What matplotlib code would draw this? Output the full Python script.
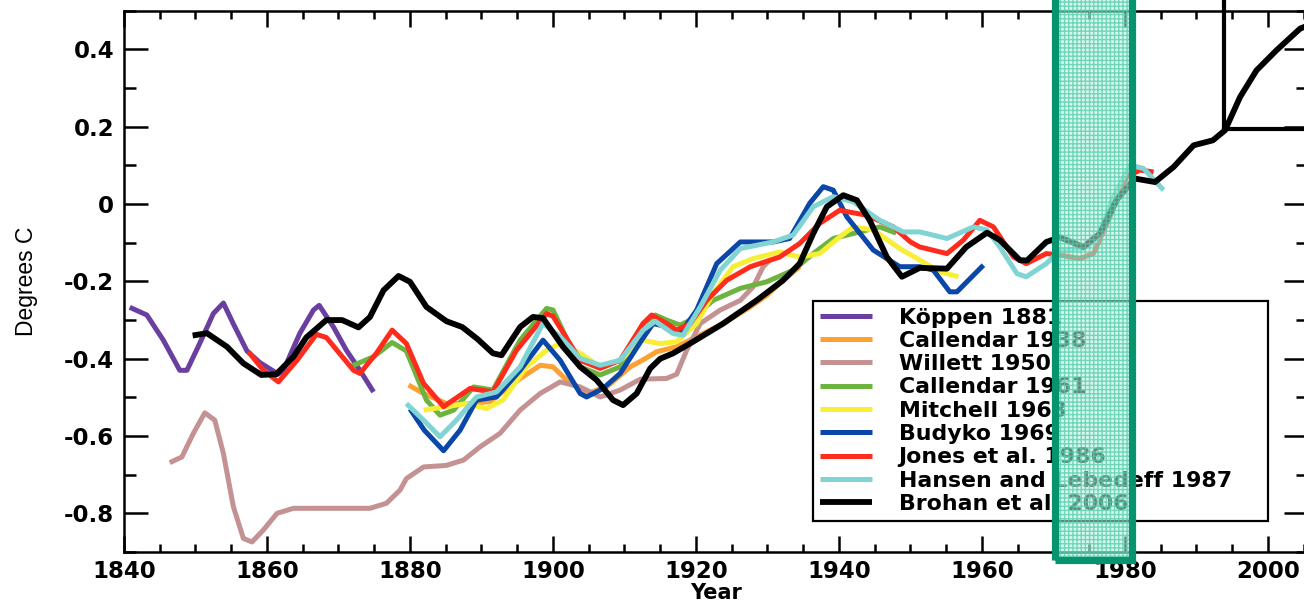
import matplotlib
matplotlib.use("Agg")
from matplotlib import pyplot as plt
from matplotlib.patches import Rectangle
from matplotlib.ticker import MultipleLocator

# --- data ---
koppen_years = [1840.8, 1843.2, 1845.5, 1847.8, 1848.8, 1850.6, 1852.5, 1853.9, 1855.3, 1857.2,
                1859.0, 1861.6, 1862.3, 1864.6, 1866.5, 1867.3, 1869.3, 1871.1, 1873.0, 1874.9]
koppen_vals = [-0.267, -0.287, -0.352, -0.430, -0.430, -0.360, -0.283, -0.256, -0.310, -0.380,
               -0.410, -0.440, -0.430, -0.334, -0.274, -0.262, -0.318, -0.378, -0.430, -0.486]

callendar38_years = [1879.8, 1881.9, 1885.1, 1888.4, 1891.2, 1894.4, 1898.2, 1900.0, 1901.9, 1904.7,
                     1907.5, 1910.8, 1912.4, 1914.5, 1917.3, 1920.1, 1923.8, 1927.6, 1929.9, 1932.2,
                     1934.5]
callendar38_vals = [-0.468, -0.490, -0.516, -0.516, -0.511, -0.464, -0.417, -0.421, -0.455, -0.490,
                    -0.473, -0.421, -0.405, -0.382, -0.369, -0.343, -0.309, -0.266, -0.236, -0.197,
                    -0.162]

willett_years = [1846.4, 1848.1, 1849.7, 1851.3, 1852.7, 1853.9, 1855.3, 1856.7, 1857.9, 1859.5,
                 1861.4, 1863.7, 1867.5, 1874.4, 1876.7, 1878.6, 1879.5, 1881.9, 1885.1, 1887.5,
                 1889.8, 1892.6, 1895.4, 1898.2, 1901.0, 1903.8, 1906.6, 1909.4, 1912.2, 1915.9,
                 1917.3, 1918.7, 1920.6, 1923.4, 1926.2, 1928.0, 1929.4, 1930.3]
willett_vals = [-0.669, -0.654, -0.593, -0.540, -0.559, -0.645, -0.783, -0.865, -0.874, -0.843,
                -0.800, -0.787, -0.787, -0.787, -0.774, -0.740, -0.710, -0.680, -0.676, -0.662,
                -0.628, -0.593, -0.533, -0.490, -0.460, -0.473, -0.499, -0.481, -0.453, -0.451,
                -0.440, -0.378, -0.309, -0.274, -0.249, -0.214, -0.162, -0.145]

callendar61_years = [1871.6, 1874.9, 1877.5, 1879.5, 1882.3, 1884.2, 1886.1, 1888.9, 1891.6, 1895.4,
                     1899.1, 1900.0, 1903.8, 1906.6, 1909.4, 1912.6, 1914.3, 1915.9, 1917.8, 1919.2,
                     1922.4, 1926.2, 1929.9, 1933.6, 1936.4, 1939.2, 1942.0, 1945.7, 1948.0]
callendar61_vals = [-0.421, -0.395, -0.358, -0.380, -0.507, -0.546, -0.533, -0.473, -0.481, -0.352,
                    -0.270, -0.274, -0.421, -0.442, -0.421, -0.309, -0.287, -0.300, -0.313, -0.300,
                    -0.249, -0.218, -0.201, -0.171, -0.128, -0.089, -0.076, -0.059, -0.075]

mitchell_years = [1881.9, 1885.1, 1887.9, 1890.7, 1893.0, 1896.3, 1899.1, 1901.0, 1903.8, 1906.6,
                  1909.4, 1912.4, 1915.0, 1917.3, 1920.1, 1922.4, 1925.2, 1928.0, 1931.7, 1934.5,
                  1937.3, 1940.1, 1942.0, 1944.8, 1948.5, 1951.3, 1954.1, 1956.7]
mitchell_vals = [-0.533, -0.524, -0.516, -0.529, -0.507, -0.421, -0.378, -0.361, -0.386, -0.421,
                 -0.404, -0.352, -0.361, -0.356, -0.309, -0.231, -0.162, -0.141, -0.124, -0.137,
                 -0.128, -0.085, -0.059, -0.067, -0.115, -0.145, -0.175, -0.188]

budyko_years = [1880.0, 1882.0, 1884.7, 1887.0, 1889.3, 1892.1, 1895.4, 1898.6, 1901.0, 1903.8,
                1904.7, 1907.0, 1909.4, 1912.4, 1914.0, 1915.9, 1917.8, 1920.1, 1922.9, 1926.2,
                1930.8, 1933.1, 1935.9, 1937.8, 1939.2, 1941.1, 1944.8, 1948.5, 1951.3, 1953.2,
                1955.5, 1956.5, 1960.2]
budyko_vals = [-0.530, -0.585, -0.638, -0.585, -0.507, -0.499, -0.430, -0.352, -0.404, -0.490,
               -0.499, -0.477, -0.438, -0.352, -0.309, -0.317, -0.335, -0.274, -0.154, -0.098,
               -0.098, -0.089, 0.002, 0.045, 0.036, -0.033, -0.119, -0.162, -0.162, -0.171,
               -0.227, -0.227, -0.158]

jones_years = [1857.4, 1859.5, 1861.6, 1864.2, 1866.9, 1868.3, 1872.1, 1873.0, 1875.3, 1877.5,
               1879.5, 1881.9, 1884.7, 1888.4, 1891.6, 1894.9, 1899.1, 1900.0, 1903.8, 1906.6,
               1909.4, 1912.6, 1913.8, 1915.9, 1917.3, 1919.2, 1921.5, 1924.3, 1927.6, 1931.7,
               1934.5, 1937.3, 1940.1, 1943.9, 1947.6, 1950.0, 1951.3, 1955.1, 1957.4, 1959.7,
               1961.6, 1964.4, 1966.2, 1969.0, 1970.9, 1973.7, 1975.6, 1977.9, 1980.2, 1982.1,
               1984.0]
jones_vals = [-0.382, -0.430, -0.460, -0.404, -0.337, -0.345, -0.430, -0.438, -0.386, -0.326,
              -0.361, -0.464, -0.524, -0.477, -0.486, -0.378, -0.283, -0.290, -0.404, -0.425,
              -0.404, -0.309, -0.287, -0.309, -0.326, -0.309, -0.249, -0.197, -0.162, -0.137,
              -0.102, -0.050, -0.016, -0.029, -0.059, -0.098, -0.111, -0.128, -0.093, -0.042,
              -0.059, -0.137, -0.154, -0.128, -0.132, -0.141, -0.128, -0.033, 0.070, 0.088,
              0.083]

hansen_years = [1879.5, 1881.9, 1884.2, 1886.5, 1889.3, 1892.1, 1895.4, 1898.6, 1901.0, 1903.8,
                1906.6, 1909.4, 1912.6, 1914.3, 1916.8, 1918.2, 1920.6, 1923.4, 1926.2, 1930.8,
                1933.6, 1936.4, 1939.2, 1942.0, 1945.7, 1949.0, 1951.3, 1955.1, 1958.8, 1960.7,
                1962.5, 1964.9, 1966.2, 1969.0, 1970.9, 1974.2, 1976.0, 1978.4, 1980.7, 1982.6,
                1985.4]
hansen_vals = [-0.516, -0.559, -0.602, -0.559, -0.499, -0.486, -0.421, -0.309, -0.343, -0.399,
               -0.417, -0.404, -0.326, -0.303, -0.335, -0.339, -0.266, -0.171, -0.115, -0.098,
               -0.080, -0.007, 0.019, 0.006, -0.042, -0.072, -0.072, -0.089, -0.059, -0.067,
               -0.111, -0.180, -0.188, -0.154, -0.119, -0.115, -0.093, 0.019, 0.101, 0.092,
               0.036]

brohan_years = [1849.6, 1851.6, 1854.4, 1856.7, 1859.2, 1861.3, 1863.7, 1865.5, 1868.3, 1870.5,
                1872.8, 1874.4, 1876.3, 1878.4, 1880.0, 1882.3, 1885.1, 1887.3, 1889.5, 1891.6,
                1892.8, 1895.4, 1897.2, 1898.6, 1901.4, 1903.8, 1906.1, 1908.4, 1909.8, 1911.7,
                1913.6, 1915.0, 1916.8, 1919.6, 1923.8, 1928.5, 1932.2, 1934.5, 1936.4, 1938.3,
                1940.6, 1942.5, 1944.3, 1946.7, 1948.8, 1951.3, 1955.1, 1957.8, 1960.7, 1962.5,
                1965.3, 1966.3, 1969.0, 1970.9, 1974.2, 1976.5, 1978.8, 1981.4, 1984.2, 1986.8,
                1989.6, 1992.3, 1994.0, 1996.1, 1998.4, 2001.2, 2004.5, 2006.0]
brohan_vals = [-0.340, -0.334, -0.369, -0.412, -0.442, -0.440, -0.395, -0.345, -0.300, -0.300,
               -0.319, -0.292, -0.223, -0.186, -0.201, -0.266, -0.303, -0.318, -0.350, -0.386,
               -0.391, -0.318, -0.292, -0.295, -0.369, -0.421, -0.455, -0.507, -0.520, -0.490,
               -0.425, -0.400, -0.386, -0.356, -0.309, -0.249, -0.197, -0.154, -0.076, -0.007,
               0.023, 0.010, -0.042, -0.137, -0.188, -0.165, -0.167, -0.111, -0.074, -0.093,
               -0.145, -0.146, -0.098, -0.086, -0.111, -0.076, 0.010, 0.066, 0.057, 0.096,
               0.152, 0.165, 0.191, 0.277, 0.346, 0.398, 0.454, 0.465]

series = [
    ("Köppen 1881", koppen_years, koppen_vals, "#6a3fa0"),
    ("Callendar 1938", callendar38_years, callendar38_vals, "#ffa033"),
    ("Willett 1950", willett_years, willett_vals, "#c49292"),
    ("Callendar 1961", callendar61_years, callendar61_vals, "#6cb33f"),
    ("Mitchell 1963", mitchell_years, mitchell_vals, "#f7ee36"),
    ("Budyko 1969", budyko_years, budyko_vals, "#0a47a8"),
    ("Jones et al. 1986", jones_years, jones_vals, "#ff2b1c"),
    ("Hansen and Lebedeff 1987", hansen_years, hansen_vals, "#80d4d4"),
    ("Brohan et al. 2006", brohan_years, brohan_vals, "#000000"),
]

# highlighted period and corner box
box_x0, box_x1 = 1970.2, 1981.0
box_bottom = -0.921
corner_x, corner_y = 1993.8, 0.194

fig = plt.figure(figsize=(13.04, 6.03), dpi=100)
ax = fig.add_axes([124 / 1304, 51 / 603, 1184 / 1304, 541.2 / 603])

for label, xs, ys, col in series:
    lw = 4.2 if col == "#000000" else 3.6
    ax.plot(xs, ys, color=col, lw=lw, label=label,
            solid_joinstyle="round", solid_capstyle="butt")

ax.set_xlim(1840, 2005.6)
ax.set_ylim(-0.9, 0.5)

ax.xaxis.set_major_locator(MultipleLocator(20))
ax.xaxis.set_minor_locator(MultipleLocator(5))
ax.yaxis.set_minor_locator(MultipleLocator(0.1))
ax.set_yticks([-0.8, -0.6, -0.4, -0.2, 0, 0.2, 0.4])
ax.set_yticklabels(["-0.8", "-0.6", "-0.4", "-0.2", "0", "0.2", "0.4"])

ax.tick_params(axis="both", which="both", direction="in", top=True, right=True, width=1.8)
ax.tick_params(axis="y", which="major", length=17, pad=7)
ax.tick_params(axis="y", which="minor", length=8.5)
ax.tick_params(axis="x", which="major", length=11.5, pad=6)
ax.tick_params(axis="x", which="minor", length=6)
for lab in ax.get_xticklabels() + ax.get_yticklabels():
    lab.set_fontfamily("DejaVu Sans")
    lab.set_fontweight("bold")
    lab.set_fontsize(16.5)
for sp in ax.spines.values():
    sp.set_linewidth(1.8)

ax.set_ylabel("Degrees C", fontsize=16.5, family="Liberation Sans")
ax.yaxis.set_label_coords(-0.073, 0.5)
ax.set_xlabel("Year", fontsize=15, family="DejaVu Sans", fontweight="bold", labelpad=0)

leg = ax.legend(loc="upper left", bbox_to_anchor=(813 / 1304, 1 - 301 / 603, 455 / 1304, 0.0),
                bbox_transform=fig.transFigure, mode="expand", fancybox=False,
                prop={"family": "DejaVu Sans", "weight": "bold", "size": 15.8},
                handlelength=2.4, handletextpad=1.2, borderpad=0.3, labelspacing=0.15,
                frameon=True, borderaxespad=0)
leg.get_frame().set_edgecolor("black")
leg.get_frame().set_linewidth(1.6)
leg.get_frame().set_alpha(1)
leg.set_zorder(4)

# shaded band with grid pattern over the lines
shade = Rectangle((box_x0, box_bottom), box_x1 - box_x0, 1.6, facecolor=(0.74, 0.95, 0.88, 0.55),
                  edgecolor=(0.30, 0.80, 0.66, 0.75), hatch="++++", lw=0, zorder=5, clip_on=False)
ax.add_patch(shade)
outline = Rectangle((box_x0, box_bottom), box_x1 - box_x0, 1.6, fill=False,
                    edgecolor="#08936f", lw=5.2, zorder=6, clip_on=False, joinstyle="miter")
ax.add_patch(outline)

ax.plot([corner_x, corner_x], [corner_y, 0.7], color="black", lw=3, clip_on=False, zorder=6)
ax.plot([corner_x, 2010], [corner_y, corner_y], color="black", lw=3, clip_on=False, zorder=6)

fig.savefig("out.png", dpi=100)
